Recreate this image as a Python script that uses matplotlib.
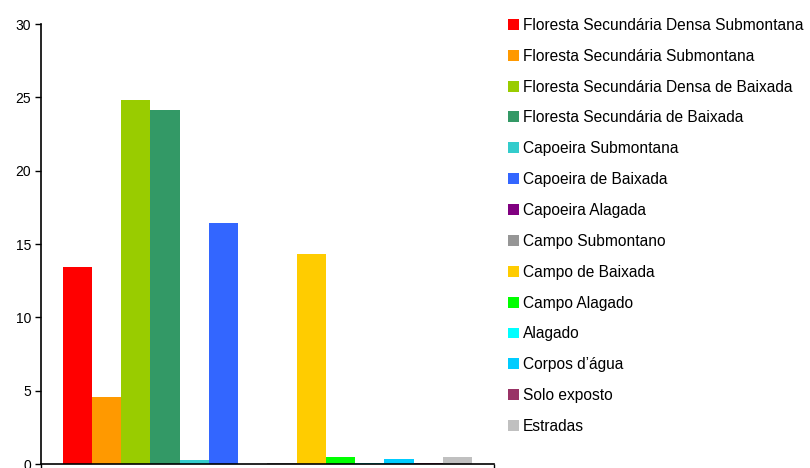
import matplotlib.pyplot as plt
from matplotlib.patches import Patch

plt.rcParams["font.family"] = ["Liberation Sans", "DejaVu Sans"]

classes = [
    "Floresta Secundária Densa Submontana",
    "Floresta Secundária Submontana",
    "Floresta Secundária Densa de Baixada",
    "Floresta Secundária de Baixada",
    "Capoeira Submontana",
    "Capoeira de Baixada",
    "Capoeira Alagada",
    "Campo Submontano",
    "Campo de Baixada",
    "Campo Alagado",
    "Alagado",
    "Corpos d’água",
    "Solo exposto",
    "Estradas",
]
percent = [13.45, 4.6, 24.8, 24.15, 0.3, 16.45, 0.0, 0.05, 14.35, 0.5, 0.05, 0.35, 0.05, 0.5]
colors = [
    "#ff0000", "#ff9900", "#99cc00", "#339966", "#33cccc", "#3366ff", "#800080",
    "#969696", "#ffcc00", "#00ff00", "#00ffff", "#00ccff", "#993366", "#c0c0c0",
]

fig = plt.figure(figsize=(8.1, 4.68), dpi=100)
ax = fig.add_axes([0.0506, 0.0085, 0.559, 0.9402])

n = len(percent)
width = 1.0
gap = 0.74
xs = [gap + i * width + width / 2 for i in range(n)]
ax.bar(xs, percent, width=width, color=colors, linewidth=0)

ax.set_xlim(0, n * width + 2 * gap)
ax.set_ylim(0, 30)
ax.set_yticks(range(0, 31, 5))
ax.set_xticks([0, n * width + 2 * gap])
ax.set_xticklabels([])
ax.tick_params(axis="y", direction="out", length=4, width=1, labelsize=10, pad=3)
ax.tick_params(axis="x", direction="out", length=4, width=1)
for side in ("top", "right"):
    ax.spines[side].set_visible(False)
for side in ("left", "bottom"):
    ax.spines[side].set_linewidth(1.2)

handles = [Patch(facecolor=c, edgecolor="none") for c in colors]
fig.legend(
    handles, classes,
    loc="upper left", bbox_to_anchor=(0.627, 0.962),
    frameon=False, fontsize=11.2,
    handlelength=0.7, handleheight=0.7, handletextpad=0.28,
    labelspacing=1.02, borderaxespad=0, borderpad=0,
)

fig.savefig("out.png", dpi=100)
